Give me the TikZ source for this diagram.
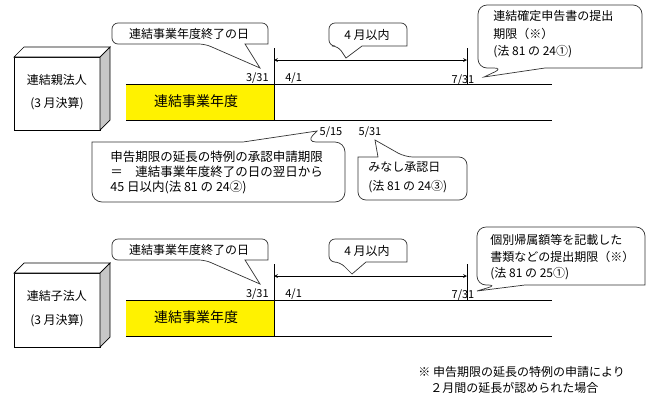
\documentclass[tikz,border=0pt]{standalone}
\usepackage{fontspec}
\setmainfont{Noto Sans CJK JP}
\begin{document}
\begin{tikzpicture}[x=1pt, y=-1pt, line width=0.7pt,
    every node/.style={font=\fontsize{12}{14}\selectfont, inner sep=0pt},
    bubble/.style={draw=black!80, line width=0.7pt, fill=white},
    face/.style={draw, line width=0.7pt, fill=white},
    datelbl/.style={font=\fontsize{11}{13}\selectfont},
    txt/.style={anchor=west, align=left}]
  \useasboundingbox (0,0) rectangle (670,400);

  % 連結親法人
  \draw[face] (14,57) rectangle (100,130);
  \draw[face] (14,57) -- (24,47) -- (110,47) -- (100,57) -- cycle;
  \draw[face, fill=black!22] (100,57) -- (110,47) -- (110,120) -- (100,130) -- cycle;
  \node (oya) at (57,80) {連結親法人};
  \node (oyaks) at (57,104) {(3 月決算)};

  \fill[yellow] (126,84) rectangle (274,120);
  \node[font=\fontsize{14}{16}\selectfont] (nendo1) at (196,101) {連結事業年度};
  \coordinate (l1a) at (126,84);  \coordinate (l1b) at (552,84);
  \coordinate (l1c) at (126,120); \coordinate (l1d) at (552,120);
  \coordinate (end1) at (274,48); \coordinate (end1b) at (274,120);
  \coordinate (due1) at (467,48); \coordinate (due1b) at (467,84);
  \coordinate (arr1a) at (274,60); \coordinate (arr1b) at (467,60);
  \draw (l1a) -- (l1b);
  \draw (l1c) -- (l1d);
  \draw (end1) -- (end1b);
  \draw (due1) -- (due1b);
  \draw[<->, >=stealth] (arr1a) -- (arr1b);

  \node[datelbl, anchor=east] (d331a) at (269,78) {3/31};
  \node[datelbl, anchor=west] (d41a) at (285,78) {4/1};
  \node[datelbl] (d731a) at (463,80) {7/31};
  \node[datelbl] (d515) at (331,132) {5/15};
  \node[datelbl] (d531) at (370,132) {5/31};

  % 吹き出し
  \draw[bubble] (260,68) -- (245,44) -- (268,44) [rounded corners=6pt] -- (268,23) -- (112,23) -- (112,44) -- (205,44) [sharp corners] -- cycle;
  \node (endday1) at (189,34) {連結事業年度終了の日};
  \draw[bubble] (346,58) -- (362,46) -- (407,46) [rounded corners=6pt] -- (407,23) -- (329,23) -- (329,46) -- (338,46) [sharp corners] -- cycle;
  \node (within1) at (367,35) {4 月以内};
  \draw[bubble] (484,77) -- (545,68) -- (642,68) [rounded corners=9pt] -- (642,5) -- (478,5) -- (478,68) -- (503,68) [sharp corners] -- cycle;
  \node[txt, font=\fontsize{12}{17.5}\selectfont] (teishutsu1) at (493,34.5) {連結確定申告書の提出\\期限（※）\\(法 81 の 24①)};
  \draw[bubble] (317,131) -- (243,142) -- (92,142) [rounded corners=10pt] -- (92,202) -- (345,202) -- (345,142) -- (306,142) [sharp corners] -- cycle;
  \node[txt, font=\fontsize{12.5}{15}\selectfont] (shinsei) at (110,172) {申告期限の延長の特例の承認申請期限\\＝　連結事業年度終了の日の翌日から\\45 日以内(法 81 の 24②)};
  \draw[bubble] (375,140) -- (378,157) -- (358,157) [rounded corners=8pt] -- (358,200) -- (467,200) -- (467,157) -- (405,157) [sharp corners] -- cycle;
  \node[txt, font=\fontsize{12}{19}\selectfont] (minashi) at (368,177.5) {みなし承認日\\(法 81 の 24③)};

  % 連結子法人
  \draw[face] (14,273) rectangle (100,347);
  \draw[face] (14,273) -- (24,263) -- (110,263) -- (100,273) -- cycle;
  \draw[face, fill=black!22] (100,273) -- (110,263) -- (110,337) -- (100,347) -- cycle;
  \node (ko) at (57,296) {連結子法人};
  \node (koks) at (57,321) {(3 月決算)};

  \fill[yellow] (126,300) rectangle (274,336);
  \node[font=\fontsize{14}{16}\selectfont] (nendo2) at (196,317) {連結事業年度};
  \coordinate (l2a) at (126,300); \coordinate (l2b) at (552,300);
  \coordinate (l2c) at (126,336); \coordinate (l2d) at (552,336);
  \coordinate (end2) at (274,264); \coordinate (end2b) at (274,336);
  \coordinate (due2) at (467,264); \coordinate (due2b) at (467,300);
  \coordinate (arr2a) at (274,276); \coordinate (arr2b) at (467,276);
  \draw (l2a) -- (l2b);
  \draw (l2c) -- (l2d);
  \draw (end2) -- (end2b);
  \draw (due2) -- (due2b);
  \draw[<->, >=stealth] (arr2a) -- (arr2b);

  \node[datelbl, anchor=east] (d331b) at (269,294) {3/31};
  \node[datelbl, anchor=west] (d41b) at (285,294) {4/1};
  \node[datelbl] (d731b) at (463,295) {7/31};

  \draw[bubble] (260,284) -- (245,260) -- (268,260) [rounded corners=6pt] -- (268,239) -- (112,239) -- (112,260) -- (205,260) [sharp corners] -- cycle;
  \node (endday2) at (189,250) {連結事業年度終了の日};
  \draw[bubble] (352,274) -- (366,262) -- (407,262) [rounded corners=6pt] -- (407,239) -- (329,239) -- (329,262) -- (340,262) [sharp corners] -- cycle;
  \node (within2) at (367,251) {4 月以内};
  \draw[bubble] (477,291) -- (525,285) -- (645,285) [rounded corners=9pt] -- (645,227) -- (477,227) -- (477,285) -- (497,285) [sharp corners] -- cycle;
  \node[txt, font=\fontsize{12}{16.5}\selectfont] (kobetsu) at (490,257.5) {個別帰属額等を記載した\\書類などの提出期限（※）\\(法 81 の 25①)};

  % 注記
  \node[txt] (note1) at (418,372) {※ 申告期限の延長の特例の申請により};
  \node[txt] (note2) at (430,388) {２月間の延長が認められた場合};
\end{tikzpicture}
\end{document}
